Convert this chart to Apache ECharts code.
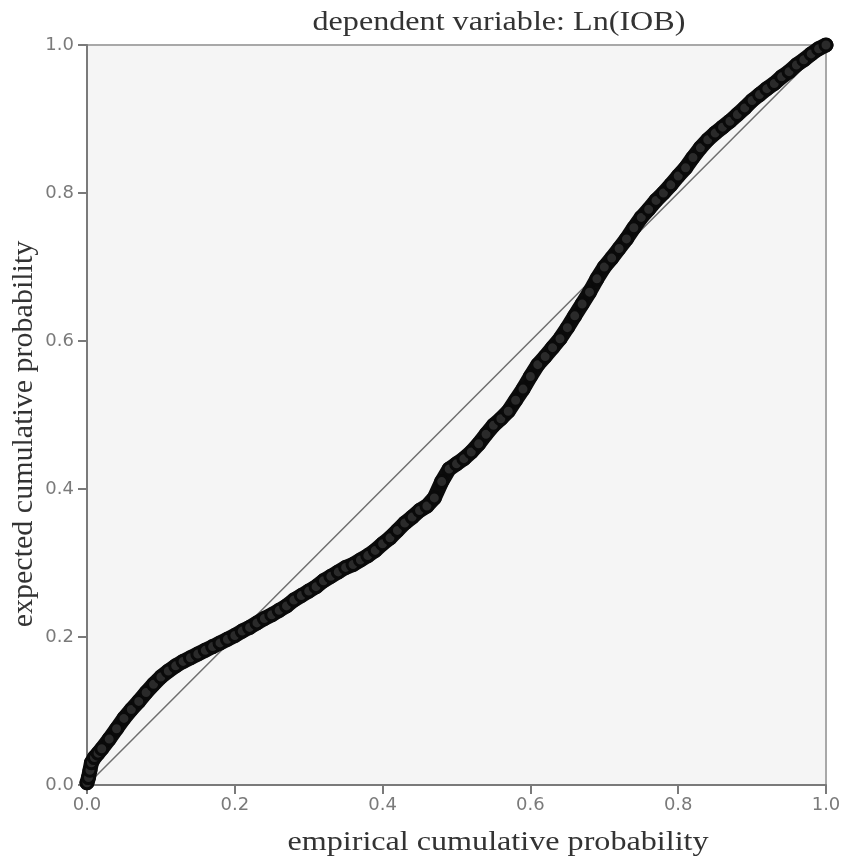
<!DOCTYPE html>
<html>
<head>
<meta charset="utf-8">
<script src="https://cdn.jsdelivr.net/npm/echarts@6/dist/echarts.min.js"></script>
<style>
  html, body { margin: 0; padding: 0; background: #fff; }
  #chart { width: 850px; height: 865px; }
</style>
</head>
<body>
<div id="chart"></div>
<script>
// empirical vs expected cumulative probability
const empirical = [
  0.000, 0.002, 0.004, 0.006, 0.010, 0.015, 0.020, 0.030, 0.040, 0.050,
  0.060, 0.070, 0.080, 0.090, 0.100, 0.110, 0.120, 0.130, 0.140, 0.150,
  0.160, 0.170, 0.180, 0.190, 0.200, 0.210, 0.220, 0.230, 0.240, 0.250,
  0.260, 0.270, 0.280, 0.290, 0.300, 0.310, 0.320, 0.330, 0.340, 0.350,
  0.360, 0.370, 0.380, 0.390, 0.400, 0.410, 0.420, 0.430, 0.440, 0.450,
  0.460, 0.470, 0.480, 0.490, 0.500, 0.510, 0.520, 0.530, 0.540, 0.550,
  0.560, 0.570, 0.580, 0.590, 0.600, 0.610, 0.620, 0.630, 0.640, 0.650,
  0.660, 0.670, 0.680, 0.690, 0.700, 0.710, 0.720, 0.730, 0.740, 0.750,
  0.760, 0.770, 0.780, 0.790, 0.800, 0.810, 0.820, 0.830, 0.840, 0.850,
  0.860, 0.870, 0.880, 0.890, 0.900, 0.910, 0.920, 0.930, 0.940, 0.950,
  0.960, 0.970, 0.980, 0.990, 1.000
];
const expected = [
  0.003, 0.010, 0.020, 0.030, 0.037, 0.043, 0.049, 0.062, 0.076, 0.090,
  0.102, 0.113, 0.125, 0.136, 0.146, 0.154, 0.161, 0.167, 0.172, 0.177,
  0.182, 0.187, 0.192, 0.197, 0.202, 0.208, 0.213, 0.219, 0.225, 0.230,
  0.236, 0.242, 0.250, 0.256, 0.262, 0.268, 0.276, 0.282, 0.288, 0.294,
  0.298, 0.304, 0.310, 0.317, 0.326, 0.334, 0.344, 0.354, 0.362, 0.371,
  0.377, 0.388, 0.410, 0.427, 0.434, 0.441, 0.450, 0.461, 0.474, 0.486,
  0.495, 0.505, 0.520, 0.535, 0.552, 0.568, 0.579, 0.591, 0.603, 0.618,
  0.634, 0.650, 0.666, 0.684, 0.700, 0.712, 0.725, 0.738, 0.753, 0.767,
  0.778, 0.790, 0.800, 0.811, 0.823, 0.834, 0.848, 0.861, 0.872, 0.881,
  0.889, 0.897, 0.906, 0.915, 0.925, 0.933, 0.941, 0.948, 0.957, 0.964,
  0.973, 0.980, 0.988, 0.995, 1.000
];
const refLine = [[0, 0], [1, 1]];

const points = empirical.map((x, i) => [x, expected[i]]);

const chart = echarts.init(document.getElementById('chart'), null, { renderer: 'canvas' });

const serif = '"Liberation Serif", "Times New Roman", serif';
const sans = '"DejaVu Sans", Arial, sans-serif';

const axisCommon = {
  type: 'value',
  min: 0,
  max: 1,
  interval: 0.2,
  axisLine: { show: true, lineStyle: { color: '#7a7a7a', width: 2 } },
  axisTick: { show: true, length: 9, lineStyle: { color: '#7a7a7a', width: 2 } },
  axisLabel: {
    color: '#7a7a7a',
    fontFamily: sans,
    fontSize: 18,
    formatter: v => v.toFixed(1)
  },
  splitLine: { show: false }
};

chart.setOption({
  animation: false,
  backgroundColor: '#ffffff',
  grid: {
    left: 87,
    right: 24,
    top: 45,
    bottom: 80,
    show: true,
    backgroundColor: '#f5f5f5',
    borderColor: '#a8a8a8',
    borderWidth: 2
  },
  xAxis: Object.assign({}, axisCommon, {
    axisLabel: Object.assign({}, axisCommon.axisLabel, { margin: 11 })
  }),
  yAxis: Object.assign({}, axisCommon, {
    axisLabel: Object.assign({}, axisCommon.axisLabel, { margin: 13 })
  }),
  graphic: [
    {
      type: 'text',
      x: 499,
      y: 23,
      scaleX: 1.19,
      style: {
        text: 'dependent variable: Ln(IOB)',
        font: '27px ' + serif,
        fill: '#333',
        align: 'center',
        verticalAlign: 'middle'
      }
    },
    {
      type: 'text',
      x: 498,
      y: 843,
      scaleX: 1.19,
      style: {
        text: 'empirical cumulative probability',
        font: '27px ' + serif,
        fill: '#333',
        align: 'center',
        verticalAlign: 'middle'
      }
    },
    {
      type: 'text',
      x: 24,
      y: 434,
      rotation: Math.PI / 2,
      style: {
        text: 'expected cumulative probability',
        font: '30px ' + serif,
        fill: '#333',
        align: 'center',
        verticalAlign: 'middle'
      }
    }
  ],
  series: [
    {
      type: 'line',
      data: refLine,
      symbol: 'none',
      lineStyle: { color: '#6e6e6e', width: 1.5 },
      z: 2
    },
    {
      // the overlapping markers form a solid band in the original
      type: 'line',
      data: points,
      symbol: 'none',
      lineStyle: { color: '#0c0c0c', width: 15, cap: 'round', join: 'round' },
      z: 3
    },
    {
      type: 'scatter',
      data: points,
      symbol: 'circle',
      symbolSize: 12,
      itemStyle: { color: '#2a2a2a', borderColor: '#0a0a0a', borderWidth: 3, opacity: 1 },
      z: 4
    }
  ]
});
</script>
</body>
</html>
